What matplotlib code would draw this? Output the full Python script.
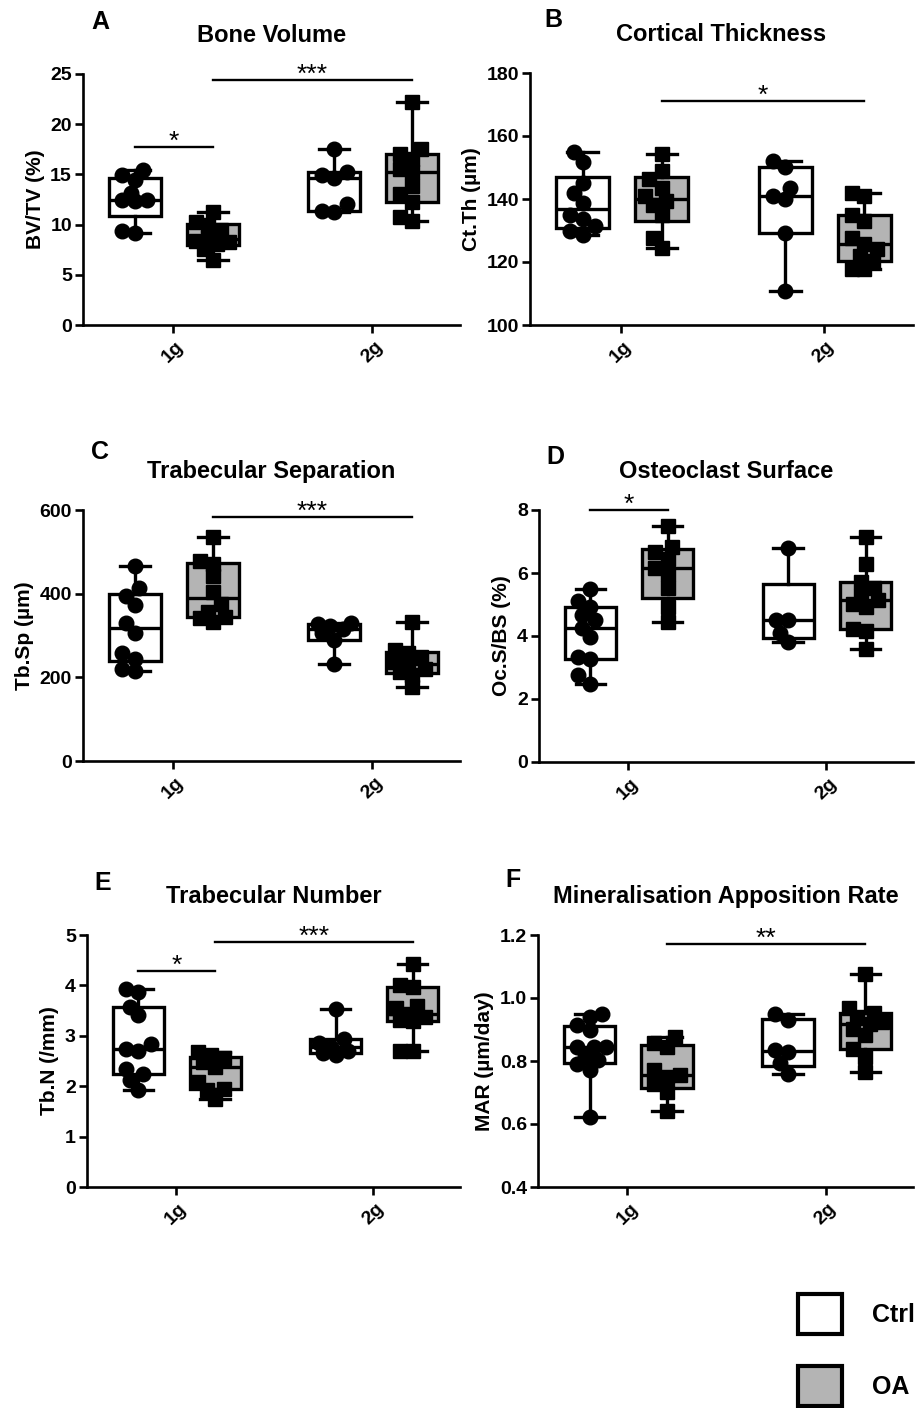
import numpy as np
import matplotlib.pyplot as plt
import matplotlib.transforms as mtransforms
from matplotlib.patches import Patch

plt.rcParams['font.family'] = ['Liberation Sans', 'DejaVu Sans']
plt.rcParams['font.weight'] = 'bold'

groups = ["1g", "2g"]
treatments = ["Ctrl", "OA"]

# values, one list per box
bv_ctrl_1g = [15.4, 14.9, 14.4, 13.1, 12.5, 12.45, 12.4, 9.4, 9.2]
bv_oa_1g = [11.3, 10.3, 10.0, 9.5, 8.7, 8.4, 8.3, 8.1, 7.6, 6.5]
bv_ctrl_2g = [17.5, 15.2, 14.9, 14.6, 12.1, 11.4, 11.3]
bv_oa_2g = [22.2, 17.5, 17.0, 16.5, 15.5, 15.2, 13.8, 13.0, 12.3, 10.8, 10.4]

ct_ctrl_1g = [155.0, 151.8, 145.2, 142.0, 138.8, 135.0, 133.5, 131.3, 129.7, 128.7]
ct_oa_1g = [154.2, 148.9, 146.2, 143.6, 140.9, 139.3, 138.2, 135.0, 127.6, 124.4]
ct_ctrl_2g = [152.0, 150.0, 143.6, 141.1, 140.0, 129.2, 110.9]
ct_oa_2g = [142.0, 141.1, 135.0, 132.9, 127.6, 125.7, 124.1, 122.0, 120.4, 117.7, 117.7]

sp_ctrl_1g = [467, 413, 394, 373, 331, 307, 257, 245, 219, 216]
sp_oa_1g = [536, 479, 471, 442, 405, 375, 357, 345, 343, 333]
sp_ctrl_2g = [329, 327, 322, 315, 305, 290, 232]
sp_oa_2g = [333, 266, 258, 248, 236, 228, 220, 212, 205, 176]

oc_ctrl_1g = [5.48, 5.12, 4.93, 4.66, 4.50, 4.24, 3.97, 3.34, 3.28, 2.75, 2.49]
oc_oa_1g = [7.49, 6.83, 6.68, 6.46, 6.15, 5.97, 5.51, 4.91, 4.45]
oc_ctrl_2g = [6.78, 4.50, 4.50, 4.08, 3.81]
oc_oa_2g = [7.15, 6.28, 5.72, 5.51, 5.27, 5.14, 5.03, 4.93, 4.21, 4.16, 3.60]

tn_ctrl_1g = [3.92, 3.86, 3.58, 3.41, 2.83, 2.73, 2.70, 2.35, 2.24, 2.12, 1.92]
tn_oa_1g = [2.68, 2.62, 2.55, 2.48, 2.38, 2.09, 1.95, 1.92, 1.74]
tn_ctrl_2g = [3.53, 2.93, 2.85, 2.78, 2.70, 2.66, 2.62]
tn_oa_2g = [4.42, 4.00, 3.97, 3.60, 3.55, 3.43, 3.38, 3.32, 3.30, 2.70, 2.70]

mar_ctrl_1g = [0.948, 0.940, 0.914, 0.898, 0.845, 0.845, 0.845, 0.815, 0.803, 0.792, 0.771, 0.623]
mar_oa_1g = [0.875, 0.856, 0.845, 0.771, 0.755, 0.750, 0.728, 0.702, 0.642]
mar_ctrl_2g = [0.948, 0.930, 0.834, 0.828, 0.794, 0.760]
mar_oa_2g = [1.075, 0.967, 0.951, 0.940, 0.924, 0.919, 0.903, 0.882, 0.839, 0.813, 0.765]

# significance: (box from, box to, height, label); boxes 0..3 = 1g Ctrl, 1g OA, 2g Ctrl, 2g OA
sig_bv = [(0, 1, 17.75, "*"), (1, 3, 24.4, "***")]
sig_ct = [(1, 3, 171.2, "*")]
sig_sp = [(1, 3, 584, "***")]
sig_oc = [(0, 1, 7.99, "*")]
sig_tn = [(0, 1, 4.28, "*"), (1, 3, 4.87, "***")]
sig_mar = [(1, 3, 1.173, "**")]

panels = [
    dict(letter="A", title="Bone Volume", ylabel="BV/TV (%)",
         data=[bv_ctrl_1g, bv_oa_1g, bv_ctrl_2g, bv_oa_2g], ylim=(0, 25),
         yticks=[0, 5, 10, 15, 20, 25], fmt="{:.0f}", sig=sig_bv,
         rect=[83, 74, 460, 325], letter_xy=(100, 22)),
    dict(letter="B", title="Cortical Thickness", ylabel="Ct.Th (µm)",
         data=[ct_ctrl_1g, ct_oa_1g, ct_ctrl_2g, ct_oa_2g], ylim=(100, 180),
         yticks=[100, 120, 140, 160, 180], fmt="{:.0f}", sig=sig_ct,
         rect=[530, 73, 913, 325], letter_xy=(553, 20)),
    dict(letter="C", title="Trabecular Separation", ylabel="Tb.Sp (µm)",
         data=[sp_ctrl_1g, sp_oa_1g, sp_ctrl_2g, sp_oa_2g], ylim=(0, 600),
         yticks=[0, 200, 400, 600], fmt="{:.0f}", sig=sig_sp,
         rect=[83, 510, 460, 761], letter_xy=(100, 452)),
    dict(letter="D", title="Osteoclast Surface", ylabel="Oc.S/BS (%)",
         data=[oc_ctrl_1g, oc_oa_1g, oc_ctrl_2g, oc_oa_2g], ylim=(0, 8),
         yticks=[0, 2, 4, 6, 8], fmt="{:.0f}", sig=sig_oc,
         rect=[539, 510, 913, 762], letter_xy=(555, 457)),
    dict(letter="E", title="Trabecular Number", ylabel="Tb.N (/mm)",
         data=[tn_ctrl_1g, tn_oa_1g, tn_ctrl_2g, tn_oa_2g], ylim=(0, 5),
         yticks=[0, 1, 2, 3, 4, 5], fmt="{:.0f}", sig=sig_tn,
         rect=[87, 935, 460, 1187], letter_xy=(103, 883)),
    dict(letter="F", title="Mineralisation Apposition Rate", ylabel="MAR (µm/day)",
         data=[mar_ctrl_1g, mar_oa_1g, mar_ctrl_2g, mar_oa_2g], ylim=(0.4, 1.2),
         yticks=[0.4, 0.6, 0.8, 1.0, 1.2], fmt="{:.1f}", sig=sig_mar,
         rect=[538, 935, 913, 1187], letter_xy=(513, 880)),
]

W, H = 922, 1408
GRAY = "#b4b4b4"
LW = 2.4
offsets = [-0.19, 0.2]
positions = [g + 1 + o for g in range(2) for o in offsets]
colors = ["white", GRAY, "white", GRAY]
markers = ["o", "s", "o", "s"]


def box_stats(vals):
    v = np.asarray(vals, dtype=float)
    q1, med, q3 = np.percentile(v, [25, 50, 75], method="weibull")
    return dict(med=med, q1=q1, q3=q3, whislo=v.min(), whishi=v.max(), fliers=[])


def swarm_x(ax, center, vals, size_px, max_dx=20):
    # simple beeswarm kept inside the box width
    pts = ax.transData.transform(np.column_stack([np.full(len(vals), center), vals]))
    ys = pts[:, 1]
    px_per_x = ax.transData.transform((1, 0))[0] - ax.transData.transform((0, 0))[0]
    cands = [0.0]
    step = size_px * 0.3
    k = 1
    while k * step <= max_dx:
        cands += [-k * step, k * step]
        k += 1
    placed = []
    xs = np.zeros(len(vals))
    for i in np.argsort(ys):
        best, best_d = 0.0, -1
        for dx in cands:
            d = min([np.hypot(dx - px, ys[i] - py) for px, py in placed], default=1e9)
            if d >= 0.85 * size_px:
                best = dx
                break
            if d > best_d:
                best, best_d = dx, d
        placed.append((best, ys[i]))
        xs[i] = center + best / px_per_x
    return xs


fig = plt.figure(figsize=(W / 100, H / 100), dpi=100)
shift = mtransforms.ScaledTranslation(-7 / 100, 0, fig.dpi_scale_trans)

for p in panels:
    l, t, r, b = p["rect"]
    ax = fig.add_axes([l / W, 1 - b / H, (r - l) / W, (b - t) / H])
    ax.set_xlim(0.55, 2.44)
    ax.set_ylim(*p["ylim"])

    stats = [box_stats(v) for v in p["data"]]
    bp = ax.bxp(stats, positions=positions, widths=0.26, capwidths=0.15, patch_artist=True,
                showfliers=False,
                boxprops=dict(linewidth=LW, edgecolor="black"),
                whiskerprops=dict(linewidth=LW, color="black"),
                capprops=dict(linewidth=LW, color="black"),
                medianprops=dict(linewidth=LW, color="black"), zorder=2)
    for patch, c in zip(bp["boxes"], colors):
        patch.set_facecolor(c)

    for pos, vals, m in zip(positions, p["data"], markers):
        ms = 10.5 if m == "o" else 9.8
        xs = swarm_x(ax, pos, vals, 14)
        ax.plot(xs, vals, linestyle="none", marker=m, markersize=ms, color="black",
                zorder=3, clip_on=False)

    for i0, i1, yv, lab in p["sig"]:
        ax.plot([positions[i0], positions[i1]], [yv, yv], color="black", lw=1.7, clip_on=False)
        ax.annotate(lab, xy=((positions[i0] + positions[i1]) / 2, yv), xytext=(0, -5),
                    textcoords="offset points", ha="center", va="bottom",
                    fontsize=19, fontweight="normal", annotation_clip=False)

    ax.spines["top"].set_visible(False)
    ax.spines["right"].set_visible(False)
    ax.spines["left"].set_linewidth(1.9)
    ax.spines["bottom"].set_linewidth(1.9)
    ax.set_yticks(p["yticks"])
    ax.set_yticklabels([p["fmt"].format(v) for v in p["yticks"]], fontsize=14, fontweight="bold")
    ax.set_xticks([1, 2])
    ax.set_xticklabels(groups, rotation=45, ha="center", fontsize=14, fontweight="bold")
    for lbl in ax.get_xticklabels():
        lbl.set_transform(lbl.get_transform() + shift)
    ax.tick_params(axis="both", width=1.9, length=6)
    ax.tick_params(axis="y", pad=2)
    ax.set_ylabel(p["ylabel"], fontsize=15, fontweight="bold", labelpad=4)
    ax.set_title(p["title"], fontsize=17, fontweight="bold", pad=23)

    lx, ly = p["letter_xy"]
    fig.text(lx / W, 1 - ly / H, p["letter"], fontsize=18, fontweight="bold",
             ha="center", va="center")

handles = [Patch(facecolor="white", edgecolor="black", linewidth=3),
           Patch(facecolor=GRAY, edgecolor="black", linewidth=3)]
fig.legend(handles, treatments, loc="upper left", bbox_to_anchor=(798 / W, 1 - 1294 / H),
           frameon=False, fontsize=18, handlelength=1.75, handleheight=2.08,
           handletextpad=1.2, labelspacing=1.28, borderpad=0, borderaxespad=0)

fig.savefig("out.png", dpi=100)
